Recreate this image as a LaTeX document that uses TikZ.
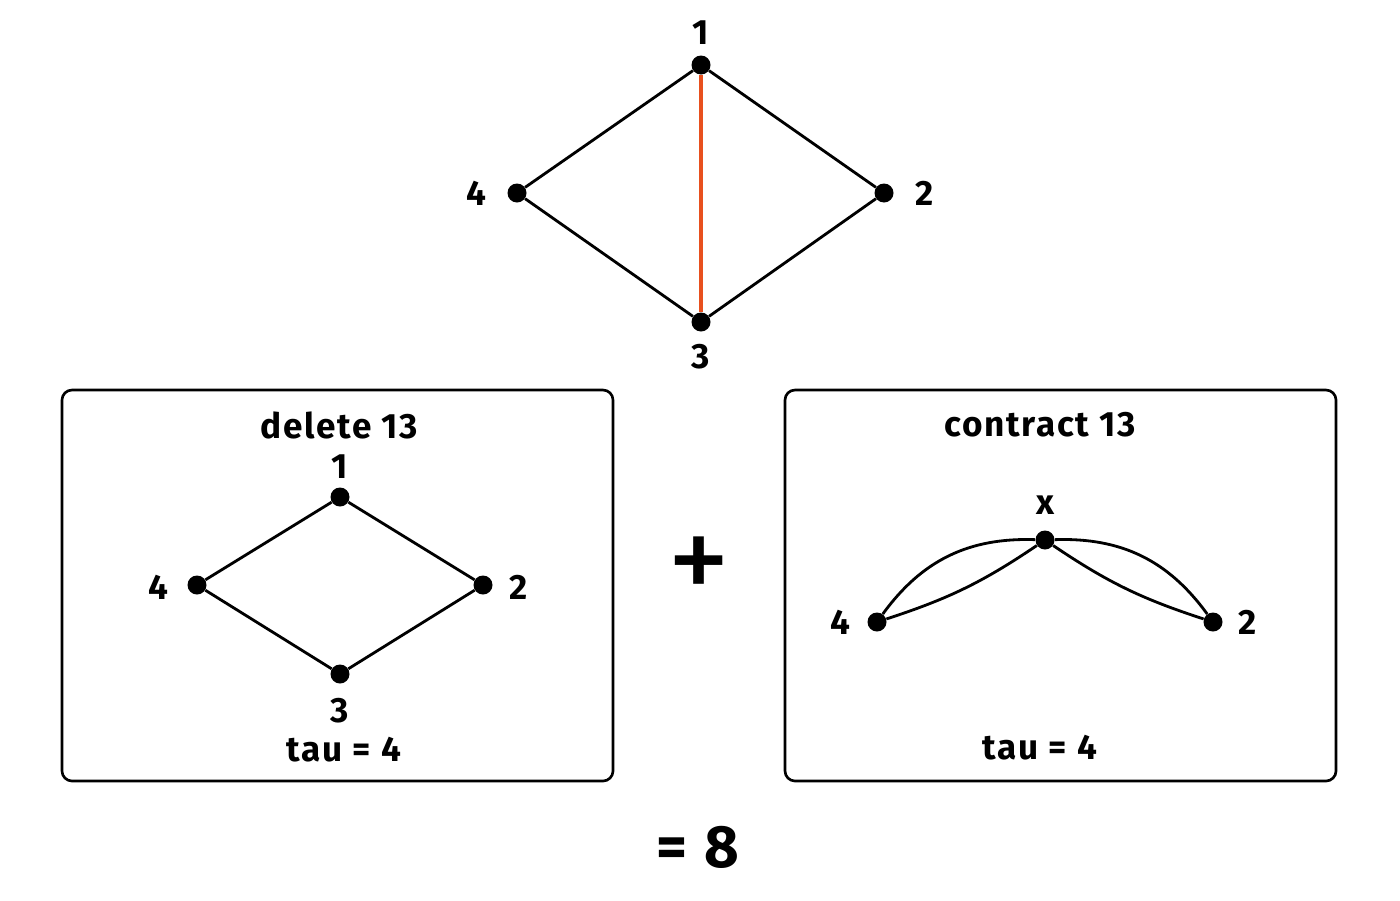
\documentclass[tikz,border=0pt]{standalone}
\usepackage{fontspec}
\setmainfont{Fira Sans}[LetterSpace=5]
\begin{document}
\begin{tikzpicture}[x=0.02cm,y=-0.02cm,
  v/.style={circle,fill=black,inner sep=0pt,minimum size=0.38cm},
  lab/.style={font=\fontsize{20}{22}\selectfont\bfseries},
  ttl/.style={font=\fontsize{20}{22}\selectfont\bfseries},
  e/.style={line width=1.6pt},
  box/.style={draw,line width=1.5pt,rounded corners=0.2cm}]
\useasboundingbox (0,0) rectangle (1400,900);
% top graph
\node[v] (t1) at (701,65) {};
\node[v] (t2) at (884,193) {};
\node[v] (t3) at (701,322) {};
\node[v] (t4) at (517,193) {};
\node[lab] (lt1) at (701,33) {1};
\node[lab] (lt2) at (925,193) {2};
\node[lab] (lt3) at (701,357) {3};
\node[lab] (lt4) at (476,193) {4};
\draw[e] (t1)--(t2)--(t3)--(t4)--(t1);
\draw[line width=1.8pt,color={rgb,255:red,232;green,80;blue,30}] (t1)--(t3);
% left box
\draw[box] (62,390) rectangle (613,781);
\node[ttl] (d) at (339,425) {delete 13};
\node[v] (a1) at (340,497) {};
\node[v] (a2) at (483,585) {};
\node[v] (a3) at (340,674) {};
\node[v] (a4) at (197,585) {};
\node[lab] (la1) at (340,467) {1};
\node[lab] (la2) at (519,587) {2};
\node[lab] (la3) at (340,711) {3};
\node[lab] (la4) at (158,587) {4};
\draw[e] (a1)--(a2)--(a3)--(a4)--(a1);
\node[ttl] (ta) at (344,750) {tau = 4};
% plus
\node[font=\fontsize{72}{74}\selectfont] (plus) at (699,570) {+};
% right box
\draw[box] (785,390) rectangle (1336,781);
\node[ttl] (c) at (1040,425) {contract 13};
\node[v] (x) at (1045,540) {};
\node[v] (b4) at (877,622) {};
\node[v] (b2) at (1213,622) {};
\node[lab] (lx) at (1045,505) {x};
\node[lab] (lb4) at (840,622) {4};
\node[lab] (lb2) at (1248,622) {2};
\draw[e] (b4) to[bend left=28] (x);
\draw[e] (b4) to[bend right=8] (x);
\draw[e] (x) to[bend left=28] (b2);
\draw[e] (x) to[bend right=8] (b2);
\node[ttl] (tb) at (1040,748) {tau = 4};
% result
\node[font=\fontsize{34}{36}\selectfont\bfseries] (res) at (698,847) {= 8};
\end{tikzpicture}
\end{document}
